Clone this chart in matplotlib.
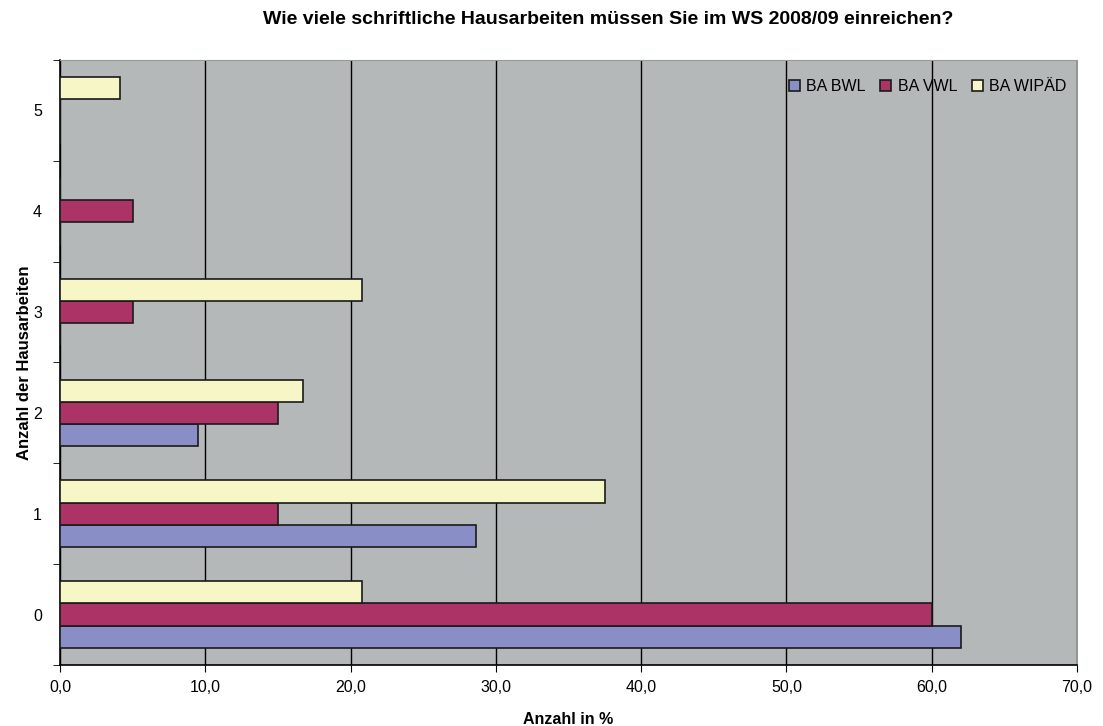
import numpy as np
import matplotlib.pyplot as plt

plt.rcParams['font.family'] = ['Liberation Sans', 'DejaVu Sans']

categories = ['0', '1', '2', '3', '4', '5']
series = ['BA BWL', 'BA VWL', 'BA WIPÄD']
bwl = [62.0, 28.6, 9.5, 0.0, 0.0, 0.0]
vwl = [60.0, 15.0, 15.0, 5.0, 5.0, 0.0]
wipaed = [20.8, 37.5, 16.7, 20.8, 0.0, 4.1]
xticks = [0, 10, 20, 30, 40, 50, 60, 70]

colors = ['#8a8ec6', '#ab3366', '#f7f6c6']

fig = plt.figure(figsize=(11.03, 7.26), dpi=100)
ax = fig.add_axes([60 / 1103, 1 - 665 / 726, 1017 / 1103, 605 / 726])
ax.set_facecolor('#b5b8b8')

y = np.arange(len(categories))
h = 0.22
for i, (vals, c, name) in enumerate(zip([bwl, vwl, wipaed], colors, series)):
    ax.barh(y + (i - 1) * h, vals, height=h, color=c, edgecolor='#1a1a1a',
            linewidth=1.2, label=name, zorder=3)

ax.set_xlim(0, 70)
ax.set_ylim(-0.5, 5.5)
ax.set_xticks(xticks)
ax.set_xticklabels([f'{v:.1f}'.replace('.', ',') for v in xticks], fontsize=11.5)
ax.set_yticks(y)
ax.set_yticklabels(categories, fontsize=11.5)
ax.tick_params(axis='y', length=0, pad=13)
ax.set_yticks(np.arange(-0.5, 5.6, 1), minor=True)
ax.tick_params(axis='y', which='minor', length=5)
ax.tick_params(axis='x', length=5, pad=6)

ax.grid(axis='x', color='black', linewidth=1, zorder=1)
for s in ['top', 'right']:
    ax.spines[s].set_color('#999999')
ax.spines['left'].set_linewidth(1.2)
ax.spines['bottom'].set_linewidth(1.2)

ax.set_xlabel('Anzahl in %', fontsize=11.5, fontweight='bold', labelpad=12)
ax.set_ylabel('Anzahl der Hausarbeiten', fontsize=12, fontweight='bold', labelpad=1)
fig.text(0.551, 1 - 19 / 726, 'Wie viele schriftliche Hausarbeiten müssen Sie im WS 2008/09 einreichen?',
         ha='center', va='center', fontsize=14, fontweight='bold')

leg = ax.legend(loc='upper right', ncol=3, frameon=False, fontsize=11.5,
                handlelength=0.7, handleheight=0.7, handletextpad=0.4,
                columnspacing=0.9, bbox_to_anchor=(1.004, 0.992))

fig.savefig('out.png', dpi=100)
